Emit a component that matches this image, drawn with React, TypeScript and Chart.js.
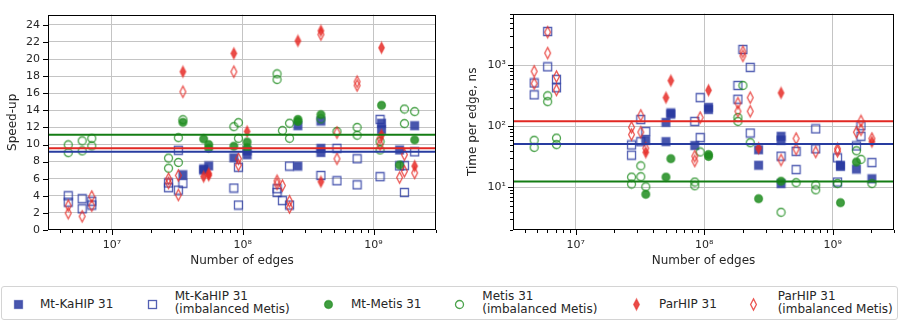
import React, { useEffect, useRef } from 'react';
import { Chart, registerables } from 'chart.js';

Chart.register(...registerables);

const FONT = '"DejaVu Sans", "Liberation Sans", sans-serif';
const TEXT = '#262626';
const GRID = '#c4c4c4';

const BLUE = [40, 56, 160];
const GREEN = [30, 140, 30];
const RED = [230, 45, 40];
const BLUE_LINE = 'rgb(40,60,160)';
const GREEN_LINE = 'rgb(20,125,20)';
const RED_LINE = 'rgb(225,40,35)';

const seriesNames = [
  'Mt-KaHIP 31',
  'Mt-KaHIP 31\n(imbalanced Metis)',
  'Mt-Metis 31',
  'Metis 31\n(imbalanced Metis)',
  'ParHIP 31',
  'ParHIP 31\n(imbalanced Metis)',
];

const xTickLabels = ['10⁷', '10⁸', '10⁹'];
const timeTickLabels = ['10¹', '10²', '10³'];
const speedTickValues = [0, 2, 4, 6, 8, 10, 12, 14, 16, 18, 20, 22, 24];

// Speed-up plot: [number of edges, speed-up]
const speedMtKahip = [
  [3.49e7, 6.46], [5.03e7, 7.15], [5.03e7, 7.0], [5.5e7, 7.5], [8.55e7, 8.44],
  [1.08e8, 9.25], [1.08e8, 8.8], [2.64e8, 12.2], [2.64e8, 7.48], [3.96e8, 12.75],
  [3.96e8, 9.55], [3.96e8, 9.07], [1.15e9, 12.49], [1.15e9, 11.75], [1.58e9, 9.36],
  [2.06e9, 12.2],
];
const speedMtKahipImb = [
  [4.64e6, 4.0], [4.64e6, 3.26], [5.93e6, 3.66], [5.93e6, 2.48], [7.02e6, 3.37],
  [7.02e6, 2.92], [2.71e7, 5.5], [2.71e7, 4.95], [3.22e7, 9.33], [3.22e7, 4.66],
  [3.49e7, 5.46], [8.55e7, 4.91], [9.27e7, 7.34], [9.27e7, 2.92], [1.83e8, 4.83],
  [1.83e8, 4.39], [2.01e8, 3.44], [2.28e8, 7.48], [2.28e8, 2.92], [3.96e8, 6.38],
  [5.25e8, 9.55], [5.25e8, 5.76], [7.48e8, 8.33], [7.48e8, 5.28], [1.12e9, 12.94],
  [1.12e9, 6.24], [1.58e9, 7.5], [1.72e9, 7.53], [1.72e9, 4.39], [2.06e9, 9.14],
];
const speedMtMetis = [
  [3.49e7, 12.6], [5.03e7, 10.65], [5.5e7, 9.99], [5.5e7, 9.55], [8.55e7, 9.8],
  [1.08e8, 10.29], [1.08e8, 9.62], [2.64e8, 12.94], [2.64e8, 12.7], [3.96e8, 13.49],
  [1.15e9, 14.59], [1.58e9, 7.6], [2.06e9, 10.54],
];
const speedMetisImb = [
  [4.64e6, 9.96], [4.64e6, 9.05], [5.93e6, 10.43], [5.93e6, 9.25], [7.02e6, 10.72],
  [7.02e6, 9.84], [2.71e7, 8.41], [2.71e7, 7.23], [3.22e7, 10.8], [3.22e7, 7.9],
  [3.49e7, 12.9], [8.55e7, 12.09], [9.27e7, 12.56], [9.27e7, 10.73], [1.83e8, 18.27],
  [1.83e8, 17.6], [2.01e8, 11.64], [2.28e8, 12.49], [2.28e8, 10.73], [3.96e8, 13.0],
  [5.25e8, 11.53], [7.48e8, 12.0], [7.48e8, 11.09], [1.12e9, 10.35], [1.12e9, 9.36],
  [1.72e9, 14.15], [1.72e9, 12.45], [2.06e9, 13.85],
];
const speedParhip = [
  [3.49e7, 18.52], [5.03e7, 6.24], [5.5e7, 6.6], [5.5e7, 6.4], [8.55e7, 20.66],
  [1.08e8, 11.53], [2.64e8, 22.13], [3.96e8, 23.31], [3.96e8, 5.65], [1.15e9, 21.32],
  [1.15e9, 11.09], [2.06e9, 7.48],
];
const speedParhipImb = [
  [4.64e6, 2.85], [4.64e6, 1.97], [5.93e6, 1.6], [7.02e6, 3.92], [7.02e6, 2.85],
  [2.71e7, 6.0], [2.71e7, 5.5], [3.22e7, 6.38], [3.22e7, 4.1], [3.49e7, 16.17],
  [8.55e7, 18.52], [9.27e7, 8.33], [9.27e7, 7.6], [1.83e8, 5.76], [1.83e8, 5.39],
  [2.01e8, 5.2], [2.28e8, 3.37], [2.28e8, 2.63], [3.96e8, 22.87], [5.25e8, 11.39],
  [5.25e8, 8.33], [7.48e8, 17.35], [7.48e8, 16.9], [1.12e9, 10.73], [1.12e9, 9.99],
  [1.58e9, 6.13], [1.72e9, 8.81], [1.72e9, 6.87], [2.06e9, 6.68],
];
// mean lines: Mt-KaHIP, Mt-Metis, ParHIP
const speedMeans = [9.14, 11.13, 9.55];

// Time per edge plot: [number of edges, ns]
const timeMtKahip = [
  [3.51e7, 59], [5.04e7, 116], [5.04e7, 56], [5.5e7, 166], [5.5e7, 158],
  [8.45e7, 48.3], [1.08e8, 204], [1.08e8, 188], [2.65e8, 41.2], [2.65e8, 23],
  [3.96e8, 68.5], [3.96e8, 59.3], [3.96e8, 11.5], [1.15e9, 23], [1.15e9, 22],
  [1.53e9, 19.9], [2.02e9, 13.8],
];
const timeMtKahipImb = [
  [4.75e6, 512], [4.75e6, 327], [6.05e6, 3570], [6.05e6, 940], [7.08e6, 587],
  [7.08e6, 427], [2.72e7, 49.4], [2.72e7, 33.6], [3.21e7, 129], [3.21e7, 55.8],
  [3.51e7, 82], [8.45e7, 120], [9.3e7, 294], [9.3e7, 65.3], [1.83e8, 466],
  [1.83e8, 277], [2.0e8, 1810], [2.28e8, 920], [2.28e8, 77.4], [3.96e8, 32.4],
  [5.19e8, 38.8], [5.19e8, 19.5], [7.38e8, 90.6], [7.38e8, 42.7], [1.09e9, 30.4],
  [1.09e9, 12.2], [1.53e9, 47.6], [1.66e9, 102], [1.66e9, 68.5], [2.02e9, 25.4],
];
const timeMtMetis = [
  [3.51e7, 7.7], [5.04e7, 14.7], [5.5e7, 29.4], [1.08e8, 34.4], [1.08e8, 32],
  [2.65e8, 6.5], [3.96e8, 12.6], [1.15e9, 5.6], [1.53e9, 26],
];
const timeMetisImb = [
  [4.75e6, 59], [4.75e6, 45], [6.05e6, 316], [6.05e6, 253], [7.08e6, 64],
  [7.08e6, 50], [2.72e7, 14.7], [2.72e7, 11.3], [3.21e7, 22.5], [3.21e7, 14.9],
  [3.51e7, 10.2], [8.45e7, 12.2], [8.45e7, 10.6], [9.3e7, 37.9], [1.83e8, 139],
  [1.83e8, 120], [2.0e8, 466], [2.28e8, 53.8], [3.96e8, 3.9], [5.19e8, 11.9],
  [7.38e8, 10.9], [7.38e8, 9.1], [1.09e9, 11.5], [1.53e9, 39.7], [1.66e9, 28.7],
  [2.02e9, 11.5],
];
const timeParhip = [
  [3.51e7, 37.4], [5.04e7, 294], [5.5e7, 558], [1.08e8, 388], [2.65e8, 43.7],
  [3.96e8, 352], [2.02e9, 55.8],
];
const timeParhipImb = [
  [4.75e6, 793], [4.75e6, 501], [6.05e6, 3480], [6.05e6, 1580], [7.08e6, 653],
  [7.08e6, 393], [2.72e7, 96], [2.72e7, 73], [3.21e7, 151], [3.21e7, 80],
  [3.51e7, 43.7], [8.45e7, 32.4], [8.45e7, 27], [9.3e7, 139], [1.83e8, 239],
  [1.83e8, 176], [2.0e8, 1663], [2.0e8, 1422], [2.28e8, 294], [2.28e8, 176],
  [3.96e8, 28], [5.19e8, 63], [5.19e8, 42.3], [7.38e8, 37.9], [1.09e9, 42.7],
  [1.09e9, 38.8], [1.53e9, 80], [1.66e9, 122], [1.66e9, 87.5], [2.02e9, 63],
];
const timeMeans = [51.2, 12.4, 121];

const X_MIN = 3.25e6;
const X_MAX = 3.0e9;

const rgba = (c: number[], a: number) => `rgba(${c[0]},${c[1]},${c[2]},${a})`;

function makeMarker(kind: string, filled: boolean, c: number[]) {
  const cv = document.createElement('canvas');
  const w = kind === 'd' ? 9 : 11;
  const h = kind === 'd' ? 15 : 11;
  cv.width = w;
  cv.height = h;
  const g = cv.getContext('2d')!;
  const cx = w / 2;
  const cy = h / 2;
  g.beginPath();
  if (kind === 's') g.rect(cx - 4, cy - 4, 8, 8);
  else if (kind === 'o') g.arc(cx, cy, 4, 0, Math.PI * 2);
  else {
    g.moveTo(cx, cy - 5.6);
    g.lineTo(cx + 2.9, cy);
    g.lineTo(cx, cy + 5.6);
    g.lineTo(cx - 2.9, cy);
    g.closePath();
  }
  if (filled) {
    g.fillStyle = rgba(c, 0.85);
    g.fill();
  }
  g.lineWidth = 1.3;
  g.strokeStyle = rgba(c, filled ? 0.55 : 0.8);
  g.stroke();
  return cv;
}

const isPow10 = (v: number) => {
  if (!(v > 0)) return false;
  const l = Math.log10(v);
  return Math.abs(l - Math.round(l)) < 1e-6;
};

function logTickList(min: number, max: number) {
  const out: { v: number; major: boolean }[] = [];
  for (let e = Math.floor(Math.log10(min)); e <= Math.ceil(Math.log10(max)); e++) {
    for (let k = 1; k <= 9; k++) {
      const v = k * Math.pow(10, e);
      if (v >= min && v <= max) out.push({ v, major: k === 1 });
    }
  }
  return out;
}

const framePlugin = {
  id: 'frameTicks',
  afterDatasetsDraw(chart: any, _a: any, opts: any) {
    const { ctx, chartArea } = chart;
    const y = chart.scales.y;
    (opts.means || []).forEach((m: { value: number; color: string }) => {
      const py = y.getPixelForValue(m.value);
      ctx.save();
      ctx.strokeStyle = m.color;
      ctx.lineWidth = 2;
      ctx.beginPath();
      ctx.moveTo(chartArea.left, py);
      ctx.lineTo(chartArea.right, py);
      ctx.stroke();
      ctx.restore();
    });
  },
  afterDraw(chart: any, _a: any, opts: any) {
    const { ctx, chartArea: a } = chart;
    const xs = chart.scales.x;
    const ys = chart.scales.y;
    ctx.save();
    ctx.strokeStyle = '#000';
    ctx.lineWidth = 1;
    ctx.strokeRect(Math.round(a.left) + 0.5, Math.round(a.top) + 0.5, Math.round(a.right - a.left) - 1, Math.round(a.bottom - a.top) - 1);
    ctx.beginPath();
    (opts.xTicks || []).forEach((t: any) => {
      const px = Math.round(xs.getPixelForValue(t.v)) + 0.5;
      const len = t.major ? 5 : 3;
      ctx.moveTo(px, a.bottom);
      ctx.lineTo(px, a.bottom + len);
    });
    (opts.yTicks || []).forEach((t: any) => {
      const py = Math.round(ys.getPixelForValue(t.v)) + 0.5;
      const len = t.major ? 5 : 3;
      ctx.moveTo(a.left, py);
      ctx.lineTo(a.left - len, py);
    });
    ctx.stroke();
    ctx.restore();
  },
};

function buildDatasets(groups: number[][][]) {
  const styles = [
    makeMarker('s', true, BLUE),
    makeMarker('s', false, BLUE),
    makeMarker('o', true, GREEN),
    makeMarker('o', false, GREEN),
    makeMarker('d', true, RED),
    makeMarker('d', false, RED),
  ];
  return groups.map((pts, i) => ({
    label: seriesNames[i],
    data: pts.map(([x, y]) => ({ x, y })),
    pointStyle: styles[i],
    pointRadius: 4,
    showLine: false,
    order: 10 - i,
  }));
}

const xScale = (labelList: string[]) => ({
  type: 'logarithmic',
  min: X_MIN,
  max: X_MAX,
  afterFit: (s: any) => {
    s.height = 40;
  },
  border: { display: false },
  grid: {
    drawTicks: false,
    lineWidth: 1,
    color: (c: any) => (c.tick && isPow10(c.tick.value) ? GRID : 'rgba(0,0,0,0)'),
  },
  ticks: {
    autoSkip: false,
    maxRotation: 0,
    minRotation: 0,
    padding: 9,
    color: TEXT,
    font: { family: FONT, size: 11 },
    callback: (v: number) => {
      if (!isPow10(v)) return '';
      const e = Math.round(Math.log10(v));
      return labelList[e - 7] ?? '';
    },
  },
  title: {
    display: true,
    text: 'Number of edges',
    color: TEXT,
    font: { family: FONT, size: 12 },
    padding: { top: 0, bottom: 2 },
  },
});

function SpeedChart() {
  const ref = useRef<HTMLCanvasElement>(null);
  useEffect(() => {
    const chart = new Chart(ref.current!, {
      type: 'scatter',
      data: {
        datasets: buildDatasets([
          speedMtKahip, speedMtKahipImb, speedMtMetis, speedMetisImb, speedParhip, speedParhipImb,
        ]) as any,
      },
      options: {
        responsive: false,
        animation: false,
        events: [],
        layout: { padding: { top: 2, right: 6, left: 0, bottom: 0 } },
        plugins: {
          legend: { display: false },
          tooltip: { enabled: false },
          frameTicks: {
            means: [
              { value: speedMeans[0], color: BLUE_LINE },
              { value: speedMeans[2], color: RED_LINE },
              { value: speedMeans[1], color: GREEN_LINE },
            ],
            xTicks: logTickList(X_MIN, X_MAX),
            yTicks: speedTickValues.map((v) => ({ v, major: true })),
          },
        } as any,
        scales: {
          x: xScale(xTickLabels) as any,
          y: {
            type: 'linear',
            min: 0,
            max: 25.2,
            afterFit: (s: any) => {
              s.width = 48;
            },
            border: { display: false },
            grid: {
              drawTicks: false,
              lineWidth: 1,
              color: (c: any) =>
                c.tick && speedTickValues.includes(c.tick.value) && c.tick.value > 0 ? GRID : 'rgba(0,0,0,0)',
            },
            ticks: {
              stepSize: 2,
              includeBounds: false,
              autoSkip: false,
              padding: 8,
              color: TEXT,
              font: { family: FONT, size: 11 },
              callback: (v: number) => (speedTickValues.includes(v) ? String(v) : ''),
            },
            title: {
              display: true,
              text: 'Speed-up',
              color: TEXT,
              font: { family: FONT, size: 12 },
              padding: { top: 6, bottom: 0 },
            },
          },
        },
      },
      plugins: [framePlugin],
    });
    return () => chart.destroy();
  }, []);
  return <canvas ref={ref} width={445} height={270} style={{ display: 'block' }} />;
}

function TimeChart() {
  const ref = useRef<HTMLCanvasElement>(null);
  useEffect(() => {
    const Y_MIN = 2;
    const Y_MAX = 7000;
    const chart = new Chart(ref.current!, {
      type: 'scatter',
      data: {
        datasets: buildDatasets([
          timeMtKahip, timeMtKahipImb, timeMtMetis, timeMetisImb, timeParhip, timeParhipImb,
        ]) as any,
      },
      options: {
        responsive: false,
        animation: false,
        events: [],
        layout: { padding: { top: 6, right: 4, left: 0, bottom: 0 } },
        plugins: {
          legend: { display: false },
          tooltip: { enabled: false },
          frameTicks: {
            means: [
              { value: timeMeans[0], color: BLUE_LINE },
              { value: timeMeans[2], color: RED_LINE },
              { value: timeMeans[1], color: GREEN_LINE },
            ],
            xTicks: logTickList(X_MIN, X_MAX),
            yTicks: logTickList(Y_MIN, Y_MAX),
          },
        } as any,
        scales: {
          x: xScale(xTickLabels) as any,
          y: {
            type: 'logarithmic',
            min: Y_MIN,
            max: Y_MAX,
            afterFit: (s: any) => {
              s.width = 51;
            },
            border: { display: false },
            grid: {
              drawTicks: false,
              lineWidth: 1,
              color: (c: any) => (c.tick && isPow10(c.tick.value) ? GRID : 'rgba(0,0,0,0)'),
            },
            ticks: {
              autoSkip: false,
              padding: 7,
              color: TEXT,
              font: { family: FONT, size: 11 },
              callback: (v: number) => {
                if (!isPow10(v)) return '';
                const e = Math.round(Math.log10(v));
                return timeTickLabels[e - 1] ?? '';
              },
            },
            title: {
              display: true,
              text: 'Time per edge, ns',
              color: TEXT,
              font: { family: FONT, size: 12 },
              padding: { top: 4, bottom: 0 },
            },
          },
        } as any,
      },
      plugins: [framePlugin],
    });
    return () => chart.destroy();
  }, []);
  return <canvas ref={ref} width={441} height={270} style={{ display: 'block' }} />;
}

function LegendMarker({ kind, filled, c, x, y }: { kind: string; filled: boolean; c: number[]; x: number; y: number }) {
  const w = kind === 'd' ? 9 : 11;
  const h = kind === 'd' ? 15 : 11;
  const fill = filled ? rgba(c, 0.85) : 'none';
  const stroke = rgba(c, filled ? 0.55 : 0.8);
  let shape;
  if (kind === 's') shape = <rect x={1.5} y={1.5} width={8} height={8} fill={fill} stroke={stroke} strokeWidth={1.3} />;
  else if (kind === 'o') shape = <circle cx={5.5} cy={5.5} r={4} fill={fill} stroke={stroke} strokeWidth={1.3} />;
  else shape = <polygon points="4.5,1.9 7.4,7.5 4.5,13.1 1.6,7.5" fill={fill} stroke={stroke} strokeWidth={1.3} />;
  return (
    <svg width={w} height={h} style={{ position: 'absolute', left: x - w / 2, top: y - h / 2 }}>
      {shape}
    </svg>
  );
}

const legendItems = [
  { kind: 's', filled: true, c: BLUE, mx: 18, tx: 40 },
  { kind: 's', filled: false, c: BLUE, mx: 152, tx: 174.7 },
  { kind: 'o', filled: true, c: GREEN, mx: 328, tx: 351 },
  { kind: 'o', filled: false, c: GREEN, mx: 459.3, tx: 482.3 },
  { kind: 'd', filled: true, c: RED, mx: 636, tx: 659 },
  { kind: 'd', filled: false, c: RED, mx: 753.3, tx: 777.7 },
];

export default function App() {
  return (
    <div
      style={{
        position: 'absolute',
        left: 0,
        top: 0,
        width: 903,
        height: 324,
        background: '#fff',
        fontFamily: FONT,
        overflow: 'hidden',
      }}
    >
      <div style={{ position: 'absolute', left: 0, top: 0 }}>
        <SpeedChart />
      </div>
      <div style={{ position: 'absolute', left: 462, top: 0 }}>
        <TimeChart />
      </div>
      <div
        style={{
          position: 'absolute',
          left: 1,
          top: 286,
          width: 895,
          height: 32,
          border: '1px solid #d4d4d4',
          borderRadius: 3,
          boxSizing: 'content-box',
        }}
      />
      {legendItems.map((it, i) => {
        const lines = seriesNames[i].split('\n');
        const top = lines.length === 1 ? 297.8 : 289.5;
        return (
          <React.Fragment key={i}>
            <LegendMarker kind={it.kind} filled={it.filled} c={it.c} x={it.mx} y={304} />
            <div
              style={{
                position: 'absolute',
                left: it.tx,
                top,
                fontSize: 12,
                lineHeight: '13px',
                color: TEXT,
                whiteSpace: 'pre',
              }}
            >
              {seriesNames[i]}
            </div>
          </React.Fragment>
        );
      })}
    </div>
  );
}
